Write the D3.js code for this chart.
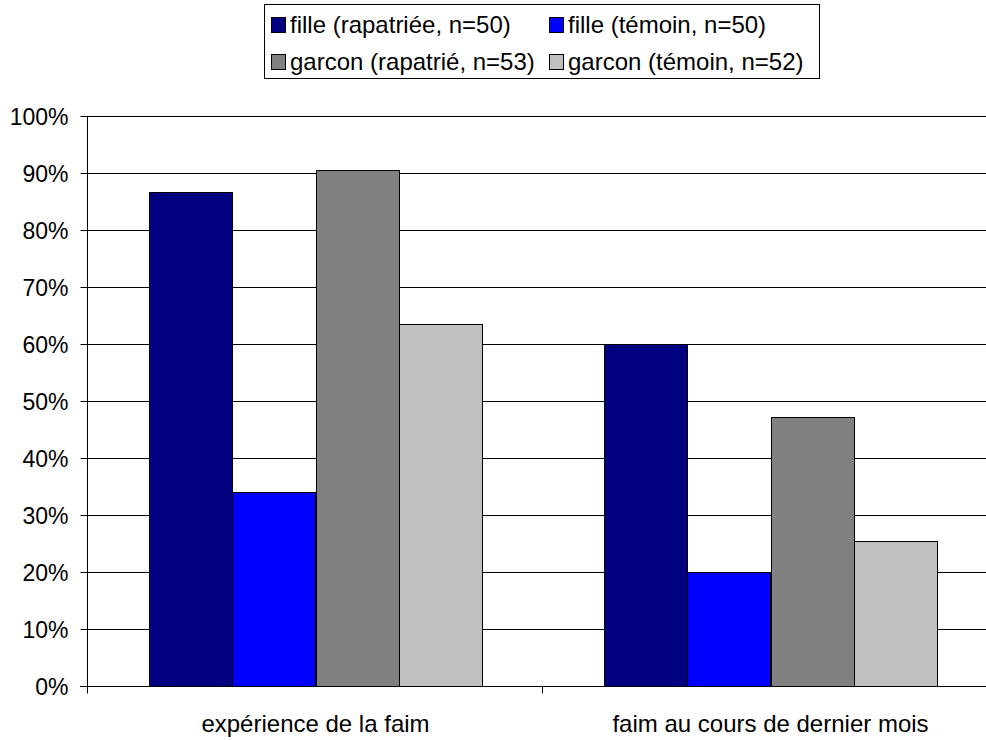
<!DOCTYPE html>
<html><head><meta charset="utf-8">
<script src="https://cdn.jsdelivr.net/npm/d3@7"></script>
<style>body{margin:0;background:#fff}svg{display:block}text{font-family:"Liberation Sans",Arial,sans-serif;fill:#000}</style>
</head><body><svg id="c" width="986" height="740"></svg>
<script>
const categories = ["expérience de la faim", "faim au cours de dernier mois"];
const seriesNames = ["fille (rapatriée, n=50)", "fille (témoin, n=50)", "garcon (rapatrié, n=53)", "garcon (témoin, n=52)"];
const seriesColors = ["#000080", "#0000ff", "#808080", "#c0c0c0"];
const filleRapatriee = [0.867, 0.60];
const filleTemoin = [0.34, 0.20];
const garconRapatrie = [0.906, 0.472];
const garconTemoin = [0.635, 0.255];
const yTicks = [0, 0.1, 0.2, 0.3, 0.4, 0.5, 0.6, 0.7, 0.8, 0.9, 1.0];
const seriesValues = [filleRapatriee, filleTemoin, garconRapatrie, garconTemoin];

(function () {
const svg = d3.select("#c");
const pL = 88, pR = 998, pT = 116, pB = 686;
const y = d3.scaleLinear().domain([0, 1]).range([pB, pT]);
const x0 = d3.scaleBand().domain(categories).range([pL, pR]).paddingInner(0).paddingOuter(0);
const x1 = d3.scaleBand().domain(seriesNames).range([0, x0.bandwidth()]).paddingInner(0).paddingOuter(0.74);

// gridlines
svg.append("g").selectAll("line").data(yTicks.slice(1)).join("line")
  .attr("x1", pL).attr("x2", pR)
  .attr("y1", d => Math.round(y(d)) + 0.5).attr("y2", d => Math.round(y(d)) + 0.5)
  .attr("stroke", "#000").attr("stroke-width", 1);

// bars
const rows = [];
categories.forEach((c, ci) => seriesNames.forEach((s, si) => rows.push({c, s, si, v: seriesValues[si][ci]})));
svg.append("g").selectAll("rect").data(rows).join("rect")
  .attr("x", d => Math.round(x0(d.c) + x1(d.s)) + 0.5)
  .attr("y", d => Math.round(y(d.v)) + 0.5)
  .attr("width", Math.round(x1.bandwidth()))
  .attr("height", d => Math.round(pB) - Math.round(y(d.v)))
  .attr("fill", d => seriesColors[d.si])
  .attr("stroke", "#000").attr("stroke-width", 1);

// y axis
const yAxis = d3.axisLeft(y).tickValues(yTicks).tickFormat(d3.format(".0%")).tickSize(7).tickPadding(12);
const gy = svg.append("g").attr("transform", `translate(${pL - 0.5},0)`).call(yAxis);
gy.select(".domain").attr("stroke", "#000").attr("d", `M0,${pT}V${pB + 7}`);
gy.selectAll(".tick line").attr("stroke", "#000");
gy.selectAll(".tick text").style("font-size", "23px").attr("fill", "#000").attr("dy", "0.36em");

// x axis
const gx = svg.append("g").attr("transform", `translate(0,${pB + 0.5})`);
gx.append("line").attr("x1", pL - 8).attr("x2", pR).attr("stroke", "#000");
const bounds = categories.map(c => x0(c)).concat([pR]);
gx.selectAll("line.tk").data(bounds).join("line").attr("class", "tk")
  .attr("x1", d => Math.round(d) - 0.5).attr("x2", d => Math.round(d) - 0.5)
  .attr("y1", 0).attr("y2", 7).attr("stroke", "#000");
gx.selectAll("text").data(categories).join("text")
  .attr("x", d => x0(d) + x0.bandwidth() / 2).attr("y", 45)
  .attr("text-anchor", "middle").style("font-size", "24px").text(d => d);

// legend
const lg = svg.append("g");
lg.append("rect").attr("x", 264.5).attr("y", 4.5).attr("width", 555).attr("height", 74)
  .attr("fill", "#fff").attr("stroke", "#000");
const colX = [271, 549], rowBase = [33, 70];
seriesNames.forEach((s, i) => {
  const cx = colX[i % 2], by = rowBase[Math.floor(i / 2)];
  lg.append("rect").attr("x", cx + 0.5).attr("y", by - 15.5).attr("width", 14).attr("height", 15)
    .attr("fill", seriesColors[i]).attr("stroke", "#000");
  lg.append("text").attr("x", cx + 19).attr("y", by)
    .style("font-size", "24px").text(s);
});
})();
</script></body></html>
